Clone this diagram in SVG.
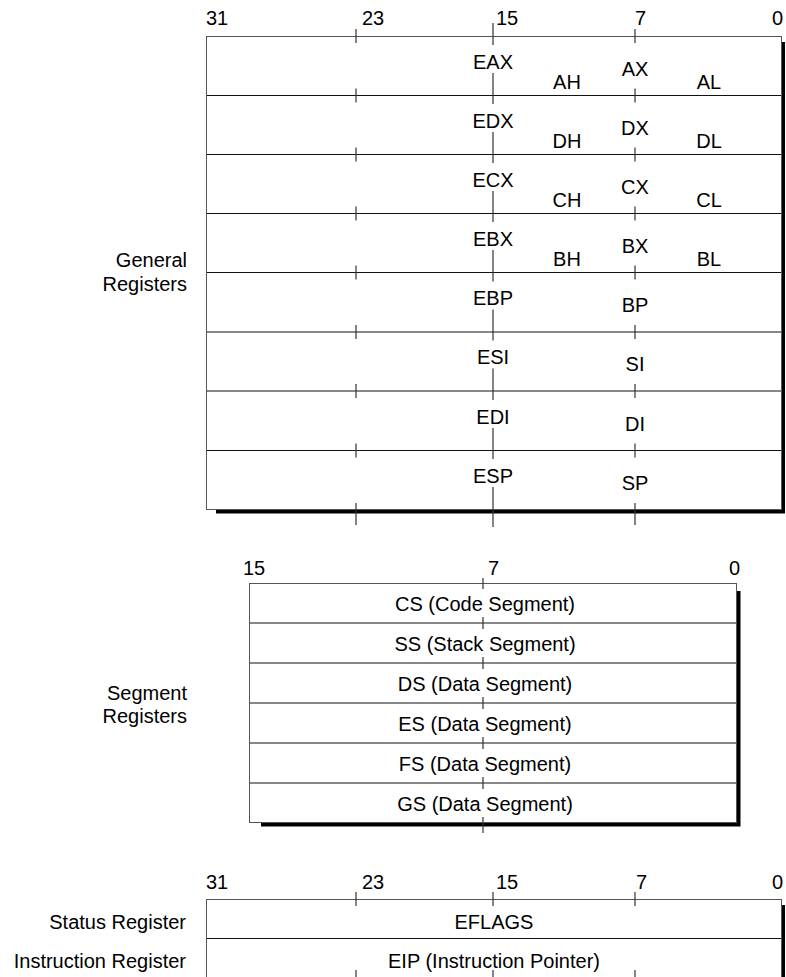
<svg xmlns="http://www.w3.org/2000/svg" width="786" height="977" viewBox="0 0 786 977">
<style>
text{font-family:"Liberation Sans",Arial,Helvetica,sans-serif;font-size:20px;fill:#000}
.m{text-anchor:middle}
.e{text-anchor:end}
.box{fill:#fff;stroke:#555;stroke-width:1}
.row{stroke:#111;stroke-width:1.2}
.tk{stroke:#333;stroke-width:1.2;fill:none}
.sh{stroke:#000;stroke-width:4;fill:none}
</style>
<rect width="786" height="977" fill="#fff"/>

<!-- General registers -->
<g id="general-registers">
<text x="206" y="25">31</text>
<text x="362" y="25">23</text>
<text x="496" y="25">15</text>
<text x="635" y="25">7</text>
<text class="e" x="783" y="25">0</text>
<text class="e" x="187" y="267">General</text>
<text class="e" x="187" y="291">Registers</text>
<polyline class="sh" points="216,511.5 783,511.5 783,42"/>
<rect class="box" x="206.5" y="36.5" width="575" height="473"/>
<g id="gr-rows">
<line class="row" x1="207" y1="95.5" x2="781" y2="95.5"/>
<line class="row" x1="207" y1="154.5" x2="781" y2="154.5"/>
<line class="row" x1="207" y1="213.5" x2="781" y2="213.5"/>
<line class="row" x1="207" y1="272.5" x2="781" y2="272.5"/>
<line class="row" x1="207" y1="332" x2="781" y2="332"/>
<line class="row" x1="207" y1="391" x2="781" y2="391"/>
<line class="row" x1="207" y1="450.5" x2="781" y2="450.5"/>
</g>
<g id="gr-ticks">
<path class="tk" d="M356,29V43 M356,88.5V102.5 M356,147.5V161.5 M356,206.5V220.5 M356,265.5V279.5 M356,325V339 M356,384V398 M356,443.5V457.5 M356,503V525"/>
<path class="tk" d="M635,29V43 M635,88.5V102.5 M635,147.5V161.5 M635,206.5V220.5 M635,265.5V279.5 M635,325V339 M635,384V398 M635,443.5V457.5 M635,503V525"/>
<path class="tk" d="M493,23V45 M493,73V104 M493,132V163 M493,191V222 M493,250V281.5 M493,309.5V340.5 M493,368.5V400 M493,428V459 M493,487V527"/>
</g>
</g>
<g id="r-eax"><text class="m" x="493" y="68.5">EAX</text><text class="m" x="635" y="76">AX</text><text class="m" x="567" y="88.5">AH</text><text class="m" x="709" y="88.5">AL</text></g>
<g id="r-edx"><text class="m" x="493" y="127.5">EDX</text><text class="m" x="635" y="135">DX</text><text class="m" x="567" y="147.5">DH</text><text class="m" x="709" y="147.5">DL</text></g>
<g id="r-ecx"><text class="m" x="493" y="186.5">ECX</text><text class="m" x="635" y="194">CX</text><text class="m" x="567" y="206.5">CH</text><text class="m" x="709" y="206.5">CL</text></g>
<g id="r-ebx"><text class="m" x="493" y="245.5">EBX</text><text class="m" x="635" y="253">BX</text><text class="m" x="567" y="265.5">BH</text><text class="m" x="709" y="265.5">BL</text></g>
<g id="r-ebp"><text class="m" x="493" y="305">EBP</text><text class="m" x="635" y="312">BP</text></g>
<g id="r-esi"><text class="m" x="493" y="364">ESI</text><text class="m" x="635" y="371">SI</text></g>
<g id="r-edi"><text class="m" x="493" y="423.5">EDI</text><text class="m" x="635" y="430.5">DI</text></g>
<g id="r-esp"><text class="m" x="493" y="482.5">ESP</text><text class="m" x="635" y="490">SP</text></g>

<!-- Segment registers -->
<g id="segment-registers">
<text x="243" y="575">15</text>
<text x="488" y="575">7</text>
<text class="e" x="740" y="575">0</text>
<text class="e" x="187" y="700">Segment</text>
<text class="e" x="187" y="723">Registers</text>
<polyline class="sh" points="261,824.5 738.5,824.5 738.5,591"/>
<rect class="box" x="249.5" y="583.5" width="487" height="239"/>
<line class="row" x1="250" y1="623" x2="736" y2="623"/>
<line class="row" x1="250" y1="663" x2="736" y2="663"/>
<line class="row" x1="250" y1="703" x2="736" y2="703"/>
<line class="row" x1="250" y1="743" x2="736" y2="743"/>
<line class="row" x1="250" y1="783" x2="736" y2="783"/>
<path class="tk" d="M483,578V589 M483,617V629 M483,657V669 M483,697V709 M483,737V749 M483,777V789 M483,817V833"/>
</g>
<g id="s-cs"><text class="m" x="485" y="611">CS (Code Segment)</text></g>
<g id="s-ss"><text class="m" x="485" y="651">SS (Stack Segment)</text></g>
<g id="s-ds"><text class="m" x="485" y="691">DS (Data Segment)</text></g>
<g id="s-es"><text class="m" x="485" y="731">ES (Data Segment)</text></g>
<g id="s-fs"><text class="m" x="485" y="771">FS (Data Segment)</text></g>
<g id="s-gs"><text class="m" x="485" y="810.5">GS (Data Segment)</text></g>

<!-- Status / instruction registers -->
<g id="status-instruction">
<text x="206" y="889">31</text>
<text x="362" y="889">23</text>
<text x="496" y="889">15</text>
<text x="636" y="889">7</text>
<text class="e" x="783" y="889">0</text>
<polyline class="sh" points="783,905 783,990"/>
<rect class="box" x="206.5" y="899.5" width="575" height="78"/>
<line class="row" x1="207" y1="938.5" x2="781" y2="938.5"/>
<path class="tk" d="M356,892V906 M493,892V906 M635,892V906 M356,970V990 M493,970V990 M635,970V990"/>
</g>
<g id="r-eflags"><text class="e" x="186" y="929">Status Register</text><text class="m" x="494" y="929">EFLAGS</text></g>
<g id="r-eip"><text class="e" x="186" y="968">Instruction Register</text><text class="m" x="494" y="968">EIP (Instruction Pointer)</text></g>
</svg>
